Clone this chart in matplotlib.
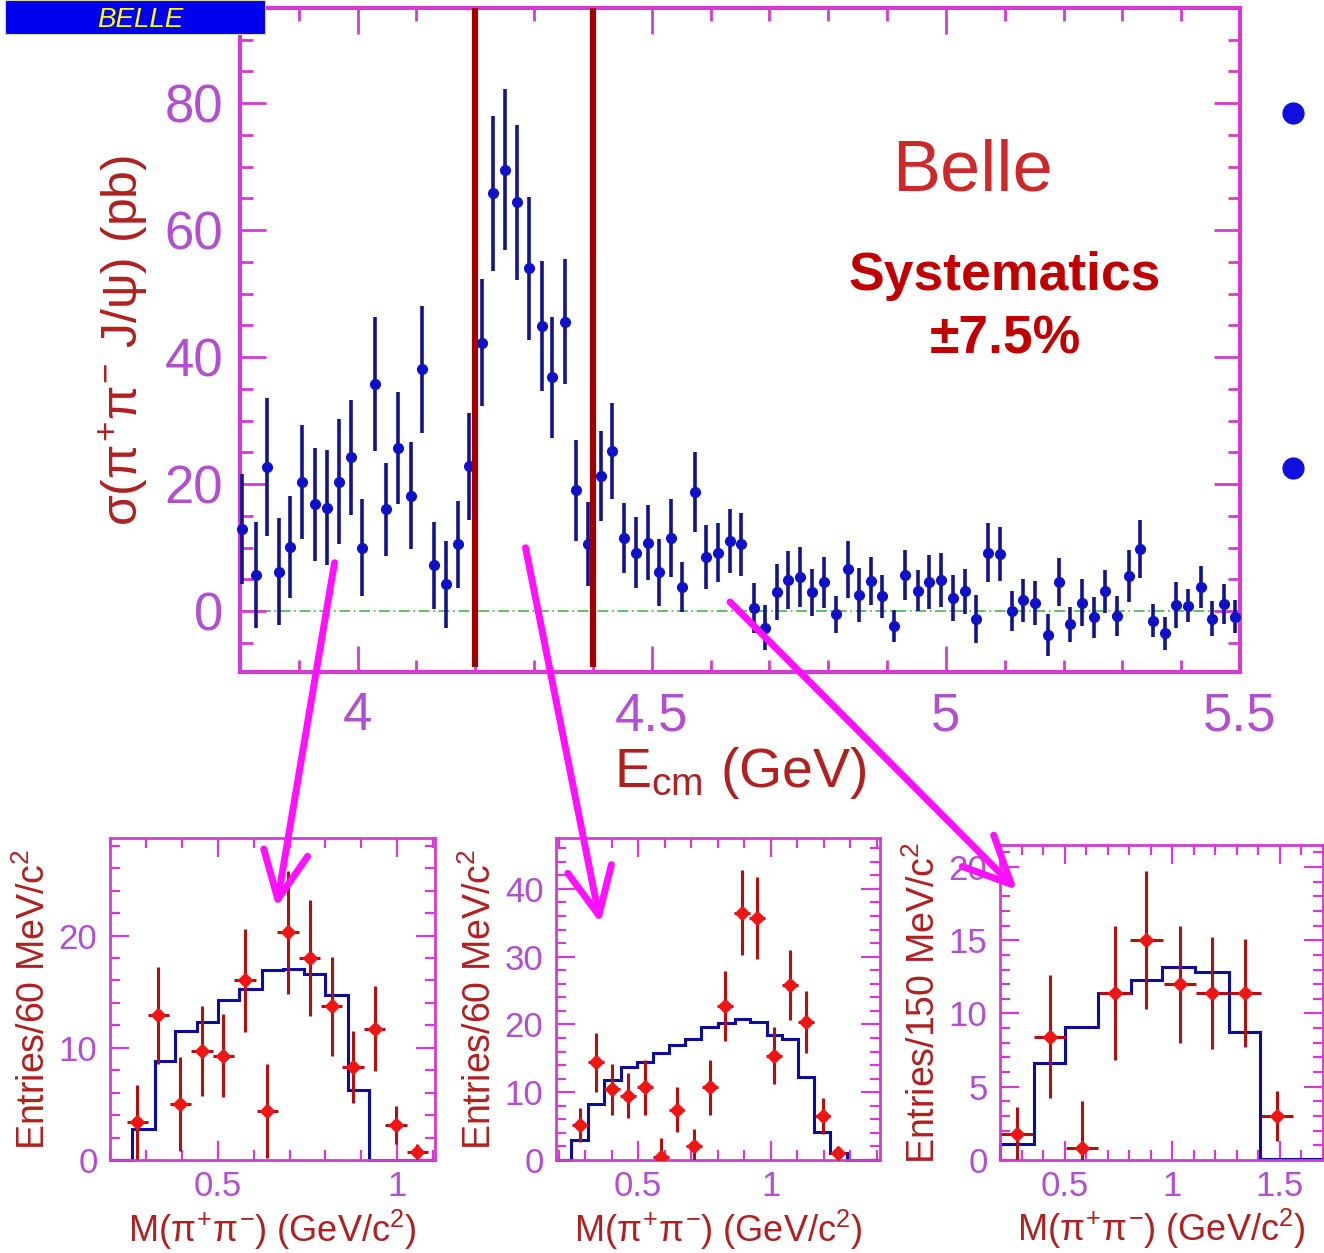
import matplotlib
matplotlib.use("Agg")

import numpy as np
import matplotlib.pyplot as plt
from matplotlib.patches import FancyArrowPatch, Rectangle
from matplotlib.lines import Line2D
from matplotlib.ticker import MultipleLocator

plt.rcParams["font.family"] = ["Liberation Sans", "DejaVu Sans"]
plt.rcParams["mathtext.fontset"] = "custom"
plt.rcParams["mathtext.rm"] = "Liberation Sans"
plt.rcParams["mathtext.it"] = "Liberation Sans"
plt.rcParams["mathtext.bf"] = "Liberation Sans:bold"

# ---------------- main cross section data ----------------
ecm = [3.804, 3.827, 3.846, 3.866, 3.885, 3.905, 3.927, 3.948, 3.968, 3.989,
       4.008, 4.029, 4.048, 4.069, 4.090, 4.109, 4.130, 4.150, 4.170, 4.189,
       4.211, 4.230, 4.250, 4.271, 4.291, 4.313, 4.331, 4.353, 4.371, 4.391,
       4.413, 4.433, 4.453, 4.473, 4.493, 4.512, 4.533, 4.552, 4.573, 4.592,
       4.612, 4.633, 4.652, 4.673, 4.692, 4.713, 4.732, 4.752, 4.772, 4.792,
       4.813, 4.833, 4.853, 4.872, 4.892, 4.911, 4.931, 4.952, 4.972, 4.992,
       5.012, 5.033, 5.052, 5.071, 5.092, 5.112, 5.131, 5.152, 5.173, 5.192,
       5.211, 5.232, 5.252, 5.271, 5.291, 5.312, 5.330, 5.352, 5.372, 5.392,
       5.412, 5.433, 5.452, 5.472, 5.492]
sigma = [12.9, 5.7, 22.7, 6.2, 10.1, 20.3, 16.8, 16.3, 20.4, 24.2,
         10.0, 35.8, 16.0, 25.7, 18.2, 38.1, 7.2, 4.2, 10.5, 22.8,
         42.3, 65.8, 69.5, 64.4, 54.0, 44.9, 36.8, 45.6, 19.0, 10.6,
         21.3, 25.2, 11.5, 9.2, 10.8, 6.1, 11.5, 3.8, 18.8, 8.5,
         9.2, 11.0, 10.5, 0.5, -2.6, 3.0, 4.9, 5.4, 3.0, 4.5,
         -0.5, 6.6, 2.5, 4.7, 2.3, -2.4, 5.7, 3.2, 4.6, 4.9,
         2.1, 3.1, -1.3, 9.2, 9.0, 0.0, 1.7, 1.3, -3.8, 4.6,
         -2.1, 1.3, -1.0, 3.1, -0.8, 5.5, 9.8, -1.5, -3.5, 1.0,
         0.8, 3.8, -1.2, 1.1, -0.9]
sigma_err = [8.7, 8.3, 10.8, 8.4, 8.0, 9.0, 8.9, 9.1, 9.8, 9.0,
             7.6, 10.6, 7.4, 8.8, 8.5, 10.0, 6.8, 6.8, 6.8, 8.4,
             10.0, 12.2, 12.7, 12.2, 11.3, 10.3, 9.6, 9.9, 7.9, 6.6,
             7.1, 7.6, 5.5, 5.6, 5.9, 5.3, 6.1, 3.9, 6.3, 5.1,
             4.7, 5.0, 4.9, 3.9, 3.6, 4.4, 4.5, 4.7, 3.7, 4.0,
             2.9, 4.5, 4.3, 3.8, 3.4, 2.5, 3.9, 3.2, 4.3, 4.2,
             3.6, 3.6, 3.8, 4.6, 4.3, 3.2, 3.4, 3.5, 3.3, 3.8,
             2.7, 3.7, 3.2, 3.4, 3.2, 4.1, 4.6, 2.6, 2.6, 3.6,
             2.6, 3.3, 2.8, 3.2, 2.6]
window = [4.2, 4.4]
main_xticks = [4, 4.5, 5, 5.5]
main_xticklabels = ["4", "4.5", "5", "5.5"]
main_yticks = [0, 20, 40, 60, 80]

# ---------------- M(pi pi) panels ----------------
p1_x = [0.276, 0.335, 0.396, 0.456, 0.516, 0.576, 0.638, 0.696, 0.756, 0.817,
        0.877, 0.937, 0.997, 1.056]
p1_y = [3.4, 12.9, 5.0, 9.7, 9.3, 16.0, 4.4, 20.3, 18.0, 13.7, 8.3, 11.7, 3.1, 0.7]
p1_err = [3.3, 4.3, 4.2, 4.0, 3.7, 4.6, 4.2, 5.5, 5.2, 4.4, 3.2, 3.8, 1.7, 0.7]
p1_edges = [0.2, 0.262, 0.324, 0.381, 0.443, 0.502, 0.560, 0.622, 0.683, 0.741,
            0.800, 0.862, 0.921, 1.105]
p1_hist = [0, 2.8, 8.8, 11.5, 12.3, 14.3, 15.2, 16.9, 17.0, 16.6, 14.7, 6.25, 0]

p2_x = [0.280, 0.340, 0.403, 0.462, 0.525, 0.586, 0.645, 0.711, 0.771, 0.828,
        0.891, 0.948, 1.014, 1.074, 1.134, 1.196, 1.256]
p2_y = [5.2, 14.4, 10.4, 9.5, 10.7, 0.5, 7.4, 2.1, 10.7, 22.7, 36.5, 35.7,
        15.4, 25.8, 20.4, 6.5, 1.1]
p2_err = [2.5, 4.4, 3.8, 3.3, 4.0, 2.7, 3.3, 2.5, 4.0, 5.2, 6.3, 6.1, 4.2,
          5.2, 4.6, 2.6, 0.8]
p2_edges = [0.19, 0.245, 0.309, 0.372, 0.434, 0.494, 0.557, 0.617, 0.676, 0.739,
            0.802, 0.865, 0.922, 0.985, 1.044, 1.104, 1.165, 1.224, 1.287, 1.413]
p2_hist = [0, 2.9, 8.3, 11.8, 13.7, 14.5, 15.8, 17.0, 17.9, 19.6, 20.2, 20.8,
           20.4, 18.5, 17.8, 12.3, 4.2, 1.1, 0]

p3_x = [0.278, 0.433, 0.582, 0.733, 0.880, 1.035, 1.183, 1.338, 1.488]
p3_y = [1.8, 8.4, 0.8, 11.4, 15.0, 12.0, 11.4, 11.4, 3.0]
p3_err = [1.8, 4.2, 3.2, 4.6, 4.7, 4.0, 3.8, 3.7, 1.7]
p3_edges = [0.2, 0.358, 0.503, 0.657, 0.808, 0.953, 1.105, 1.262, 1.408, 1.7]
p3_hist = [1.1, 6.6, 9.1, 11.4, 12.3, 13.2, 12.8, 8.75, 0.05]

FRAME = "#d23cd2"
TICKLBL = "#b24fd0"
LABEL = "#b02020"
W, H = 1324, 1253


def rect(left, top, right, bottom):
    return [left / W, 1 - bottom / H, (right - left) / W, (bottom - top) / H]


def style_axes(ax, spine_w, major_len, minor_len, tick_w, labelsize, xpad, ypad):
    for s in ax.spines.values():
        s.set_color(FRAME)
        s.set_linewidth(spine_w)
    ax.tick_params(which="both", direction="in", top=True, right=True,
                   color=FRAME, labelcolor=TICKLBL, width=tick_w)
    ax.tick_params(which="major", length=major_len, labelsize=labelsize)
    ax.tick_params(which="minor", length=minor_len)
    ax.tick_params(axis="x", pad=xpad)
    ax.tick_params(axis="y", pad=ypad)


fig = plt.figure(figsize=(W / 100, H / 100), dpi=100)

############################################################
# Main cross section plot
############################################################

ax = fig.add_axes(rect(240, 8, 1240, 672))
ax.axhline(0, color="#55bb55", lw=1.3, ls=(0, (6, 2, 1, 2)), zorder=1)
ax.vlines(window, -8.8, 95, color="#a00000", lw=4.5, zorder=4)
ax.errorbar(ecm, sigma, yerr=sigma_err, fmt="o", color="#1010c8",
            ecolor="#14148a", elinewidth=2.6, capsize=0, markersize=7,
            zorder=3, clip_on=False)
ax.set_xlim(3.8, 5.5)
ax.set_ylim(-9.6, 95)
ax.set_xticks(main_xticks, main_xticklabels)
ax.set_yticks(main_yticks)
ax.xaxis.set_minor_locator(MultipleLocator(0.1))
ax.yaxis.set_minor_locator(MultipleLocator(5))
style_axes(ax, 3, 19, 9, 2, 38, 14, 12)

ax.set_ylabel(r"$\sigma(\pi^{+}\pi^{-}$ J/$\psi$) (pb)", color=LABEL, fontsize=36)
ax.yaxis.set_label_coords(-0.09, 0.5)
ax.set_xlabel(r"E$_{\rm cm}$ (GeV)", color=LABEL, fontsize=40)
ax.xaxis.set_label_coords(0.5, -0.11)

ax.text(0.732, 0.753, "Belle", transform=ax.transAxes, color="#cc2a2a",
        fontsize=52, ha="center", va="center")
ax.text(0.765, 0.596, "Systematics", transform=ax.transAxes,
        color="#c00000", fontsize=38.5, fontweight="bold", ha="center",
        va="center")
ax.text(0.765, 0.5, "\u00b17.5%", transform=ax.transAxes,
        color="#c00000", fontsize=38.5, fontweight="bold", ha="center",
        va="center")

############################################################
# M(pi+ pi-) panels
############################################################

panels = [
    (rect(110, 838, 435, 1160), p1_x, p1_y, p1_err, 0.06, p1_edges, p1_hist,
     (0.2, 1.105), (0, 28.7), [0.5, 1], ["0.5", "1"], [0, 10, 20], 2,
     "Entries/60 MeV/c$^2$"),
    (rect(556, 838, 880, 1160), p2_x, p2_y, p2_err, 0.06, p2_edges, p2_hist,
     (0.19, 1.413), (0, 47.5), [0.5, 1], ["0.5", "1"], [0, 10, 20, 30, 40], 2,
     "Entries/60 MeV/c$^2$"),
    (rect(1000, 845, 1323, 1160), p3_x, p3_y, p3_err, 0.15, p3_edges, p3_hist,
     (0.2, 1.7), (0, 21.5), [0.5, 1, 1.5], ["0.5", "1", "1.5"],
     [0, 5, 10, 15, 20], 1, "Entries/150 MeV/c$^2$"),
]

for (r, px, py, pe, bw, edges, hist, xl, yl, xt, xtl, yt, yminor, ylab) in panels:
    a = fig.add_axes(r)
    a.stairs(hist, edges, color="#0c0ca0", lw=2.2, zorder=2, clip_on=False)
    a.errorbar(px, py, yerr=pe, xerr=bw / 2, fmt="D", color="#ee1515",
               ecolor="#b01010", elinewidth=2.2, capsize=0, markersize=7,
               zorder=3)
    a.set_xlim(*xl)
    a.set_ylim(*yl)
    a.set_xticks(xt, xtl)
    a.set_yticks(yt)
    a.xaxis.set_minor_locator(MultipleLocator(0.1))
    a.yaxis.set_minor_locator(MultipleLocator(yminor))
    style_axes(a, 2, 14, 7, 1.6, 25, 7, 9)
    a.set_ylabel(ylab, color=LABEL, fontsize=27)
    a.yaxis.set_label_coords(-0.175, 0.5)
    a.set_xlabel(r"M($\pi^{+}\pi^{-}$) (GeV/c$^2$)", color=LABEL, fontsize=26)
    a.xaxis.set_label_coords(0.5, -0.15)

############################################################
# Arrows, bullets and logo
############################################################

arrows = [((335, 560), (276, 910)), ((525, 545), (601, 926)),
          ((728, 600), (1019, 892))]
for (x0, y0), (x1, y1) in arrows:
    fig.add_artist(FancyArrowPatch(
        (x0 / W, 1 - y0 / H), (x1 / W, 1 - y1 / H),
        transform=fig.transFigure, arrowstyle="->,head_length=3.4,head_width=1.6",
        mutation_scale=10, color="#ff10ff", lw=5, zorder=10,
        capstyle="round", joinstyle="round"))

for yb in [113, 468]:
    fig.add_artist(Line2D([1293 / W], [1 - yb / H], marker="o", color="#1010e0",
                          markersize=15, transform=fig.transFigure))

fig.add_artist(Rectangle((5 / W, 1 - 34 / H), 260 / W, 34 / H,
                         transform=fig.transFigure, facecolor="#0000ee",
                         edgecolor="#d8d8a0", lw=0.8))
fig.text(140 / W, 1 - 27 / H, "BELLE", color="#ffff00", fontsize=20,
         fontstyle="italic", ha="center", va="baseline")

plt.savefig("out.png", dpi=100)
plt.close()
